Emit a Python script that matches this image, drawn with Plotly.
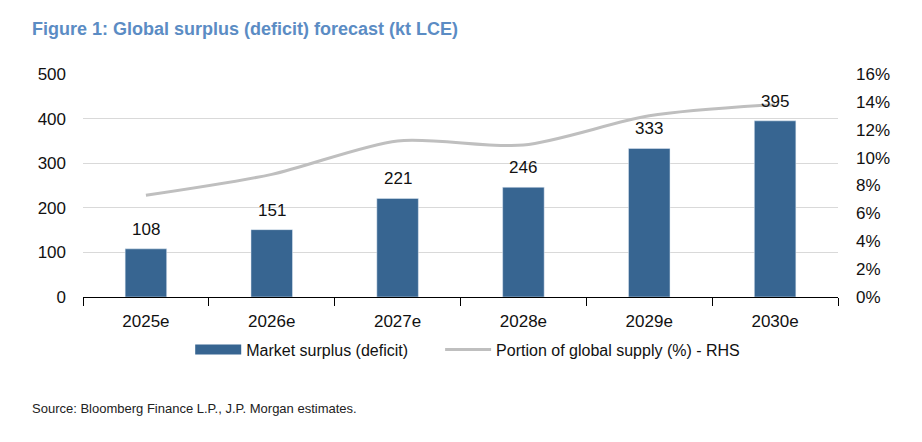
import plotly.graph_objects as go

# Chart data
years = ["2025e", "2026e", "2027e", "2028e", "2029e", "2030e"]
surplus = [108, 151, 221, 246, 333, 395]
supply_share = [7.3, 8.8, 11.2, 10.9, 13.0, 13.8]
left_ticks = [0, 100, 200, 300, 400, 500]
right_ticks = [0, 2, 4, 6, 8, 10, 12, 14, 16]

font_family = "Liberation Sans, Arial"
bar_color = "#376591"

fig = go.Figure()

fig.add_trace(go.Bar(
    x=years, y=surplus, name="Market surplus (deficit)",
    marker_color=bar_color, width=0.33, showlegend=False,
))

# legend-only entry so the bar swatch is a wide block like the original
fig.add_trace(go.Scatter(
    x=[None], y=[None], name="Market surplus (deficit)", mode="lines",
    line=dict(color=bar_color, width=12), legend="legend",
))

fig.add_trace(go.Scatter(
    x=years, y=supply_share, name="Portion of global supply (%) - RHS",
    mode="lines", line=dict(color="#BFBFBF", width=3, shape="spline", smoothing=0.8),
    yaxis="y2", legend="legend2",
))

# value labels above bars
for yr, v in zip(years, surplus):
    fig.add_annotation(x=yr, y=v, text=str(v), showarrow=False,
                       yanchor="bottom", yshift=8,
                       font=dict(size=17, color="#111111"))

legend_style = dict(orientation="h", xanchor="left", y=-0.16, yanchor="top",
                    font=dict(size=16), itemwidth=46, bgcolor="rgba(0,0,0,0)")

fig.update_layout(
    width=922, height=442,
    margin=dict(l=75, r=92, t=66, b=153),
    plot_bgcolor="white", paper_bgcolor="white",
    font=dict(family=font_family, size=17, color="#111111"),
    showlegend=True,
    legend=dict(x=0.142, **legend_style),
    legend2=dict(x=0.473, **legend_style),
    xaxis=dict(showline=True, linecolor="black", linewidth=1.2,
               ticks="outside", tickson="boundaries", ticklen=8, tickcolor="black",
               tickfont=dict(size=17), ticklabelstandoff=8),
    yaxis=dict(range=[0, 500], tickvals=left_ticks, showgrid=True,
               gridcolor="#D9D9D9", gridwidth=1.2, zeroline=False,
               showline=False, tickfont=dict(size=17), ticks="", ticklabelstandoff=16),
    yaxis2=dict(range=[0, 16], tickvals=right_ticks,
                ticktext=[f"{v}%" for v in right_ticks], overlaying="y", side="right",
                showgrid=False, zeroline=False, tickfont=dict(size=17),
                ticklabelstandoff=17),
    bargap=0.67,
)

fig.add_annotation(
    text="<b>Figure 1: Global surplus (deficit) forecast (kt LCE)</b>",
    xref="paper", yref="paper", x=-0.07, y=1.2, xanchor="left", yanchor="middle",
    showarrow=False, font=dict(size=18, color="#5B8CC4", family=font_family),
)

fig.add_annotation(
    text="Source: Bloomberg Finance L.P., J.P. Morgan estimates.",
    xref="paper", yref="paper", x=-0.07, y=-0.5, xanchor="left", yanchor="middle",
    showarrow=False, font=dict(size=13, color="#222222", family=font_family),
)

fig.write_html("out.html")
